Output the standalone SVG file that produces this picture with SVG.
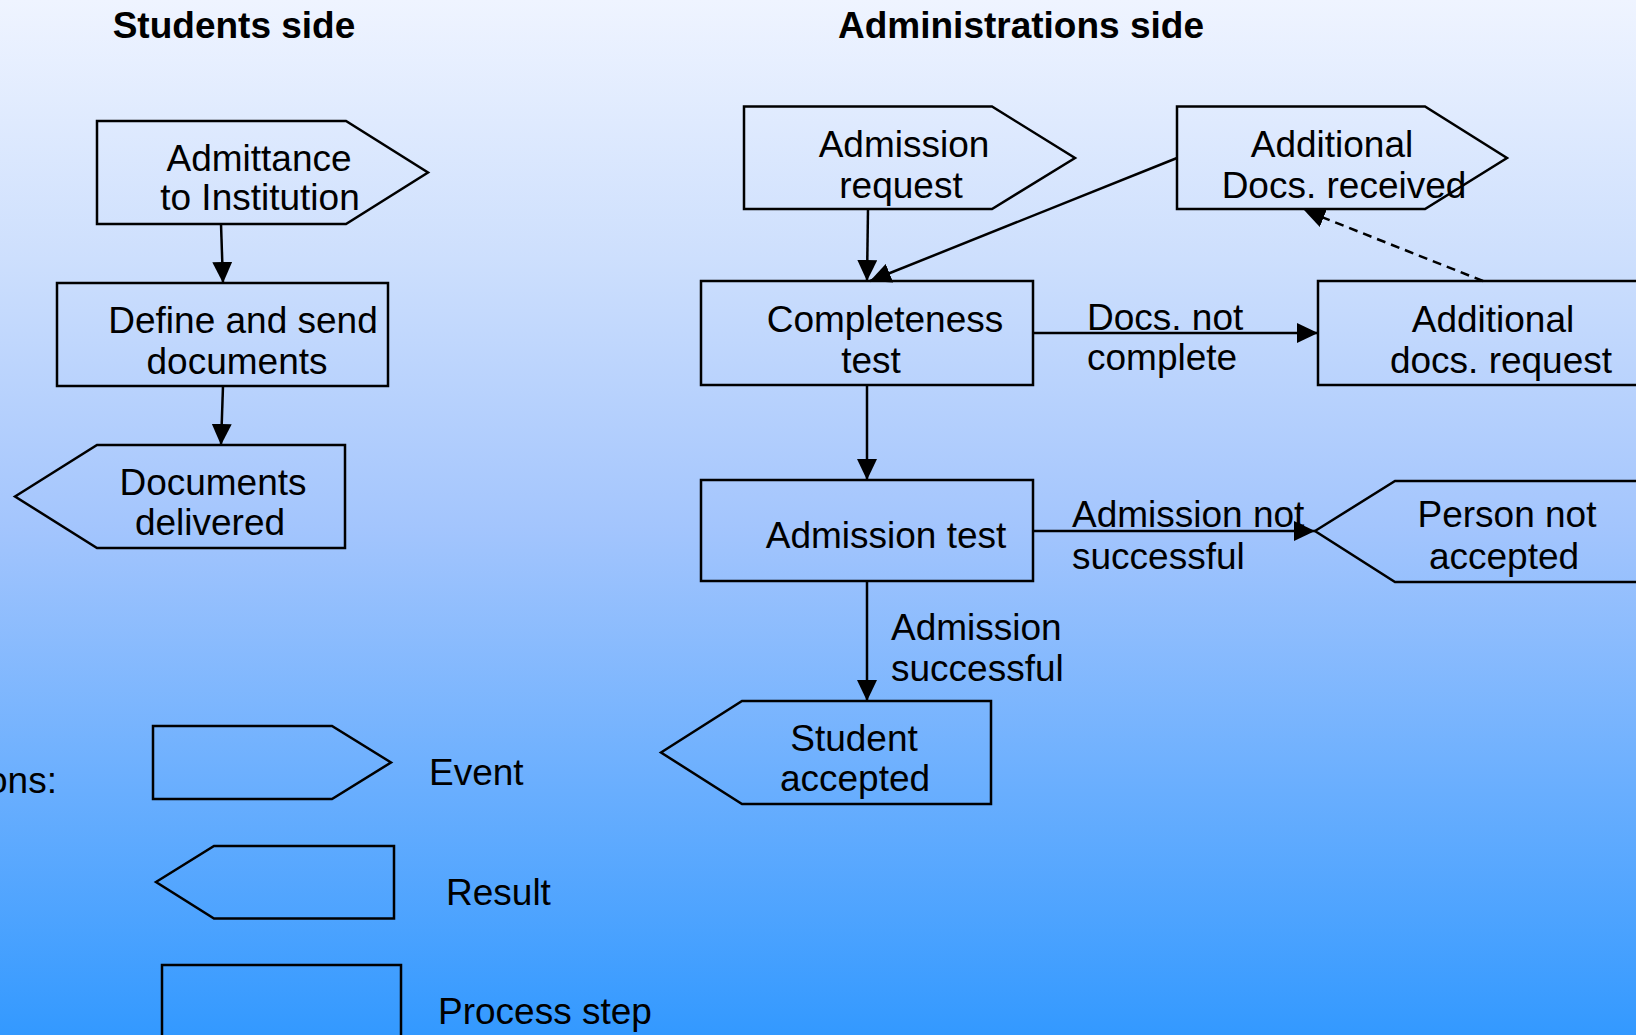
<svg xmlns="http://www.w3.org/2000/svg" width="1636" height="1035" viewBox="0 0 1636 1035">
<defs>
<linearGradient id="bg" x1="0" y1="0" x2="0" y2="1">
<stop offset="0" stop-color="#eff4ff"/>
<stop offset="0.25" stop-color="#cddffd"/>
<stop offset="0.51" stop-color="#a3c5fd"/>
<stop offset="1" stop-color="#3399ff"/>
</linearGradient>
<marker id="ah" markerUnits="userSpaceOnUse" markerWidth="22" markerHeight="20" refX="21" refY="10" orient="auto">
<path d="M0,0 L21,10 L0,20 z" fill="#000"/>
</marker>
<style>
.s{fill:none;stroke:#000;stroke-width:2.5;stroke-linejoin:miter}
.c{fill:none;stroke:#000;stroke-width:2.5;marker-end:url(#ah)}
.d{stroke-dasharray:9,6}
text{font-family:"Liberation Sans",Arial,sans-serif;font-size:37px;fill:#000}
.t{font-weight:bold;text-anchor:middle}
.m{text-anchor:middle}
</style>
</defs>
<rect x="0" y="0" width="1636" height="1035" fill="url(#bg)"/>
<g id="titles">
<text class="t" x="234" y="38">Students side</text>
<text class="t" x="1021" y="38">Administrations side</text>
</g>
<g id="connectors">
<line class="c" x1="221" y1="224" x2="223" y2="283"/>
<line class="c" x1="223" y1="386" x2="221" y2="445"/>
<line class="c" x1="868" y1="209" x2="867" y2="281"/>
<line class="c" x1="1177" y1="158" x2="870" y2="281"/>
<line class="c d" x1="1483" y1="281" x2="1304" y2="210"/>
<line class="c" x1="1033" y1="333" x2="1318" y2="333"/>
<line class="c" x1="867" y1="385" x2="867" y2="480"/>
<line class="c" x1="1033" y1="531" x2="1315" y2="531"/>
<line class="c" x1="867" y1="581" x2="867" y2="701"/>
</g>
<g id="n-admittance">
<polygon class="s" points="97,121 346,121 428,172.5 346,224 97,224"/>
<text class="m" x="259" y="171">Admittance</text>
<text class="m" x="260" y="210">to Institution</text>
</g>
<g id="n-define">
<rect class="s" x="57" y="283" width="331" height="103"/>
<text class="m" x="243" y="333">Define and send</text>
<text class="m" x="237" y="374">documents</text>
</g>
<g id="n-delivered">
<polygon class="s" points="15,496.5 97,445 345,445 345,548 97,548"/>
<text class="m" x="213" y="495">Documents</text>
<text class="m" x="210" y="535">delivered</text>
</g>
<g id="n-request">
<polygon class="s" points="744,106.5 992,106.5 1075,158 992,209 744,209"/>
<text class="m" x="904" y="157">Admission</text>
<text class="m" x="901" y="198">request</text>
</g>
<g id="n-received">
<polygon class="s" points="1177,106.5 1425,106.5 1507,158 1425,209 1177,209"/>
<text class="m" x="1332" y="157">Additional</text>
<text class="m" x="1344" y="198">Docs. received</text>
</g>
<g id="n-completeness">
<rect class="s" x="701" y="281" width="332" height="104"/>
<text class="m" x="885" y="332">Completeness</text>
<text class="m" x="871" y="373">test</text>
</g>
<g id="n-addrequest">
<rect class="s" x="1318" y="281" width="340" height="104"/>
<text class="m" x="1493" y="332">Additional</text>
<text class="m" x="1501" y="373">docs. request</text>
</g>
<g id="n-admtest">
<rect class="s" x="701" y="480" width="332" height="101"/>
<text class="m" x="886" y="548">Admission test</text>
</g>
<g id="n-notaccepted">
<polygon class="s" points="1315,531 1395,481 1660,481 1660,582 1395,582"/>
<text class="m" x="1507" y="527">Person not</text>
<text class="m" x="1504" y="569">accepted</text>
</g>
<g id="n-accepted">
<polygon class="s" points="661,752.5 742,701 991,701 991,804 742,804"/>
<text class="m" x="854" y="751">Student</text>
<text class="m" x="855" y="791">accepted</text>
</g>
<g id="labels">
<text x="1087" y="330">Docs. not</text>
<text x="1087" y="370">complete</text>
<text x="1072" y="527">Admission not</text>
<text x="1072" y="569">successful</text>
<text x="891" y="640">Admission</text>
<text x="891" y="681">successful</text>
</g>
<g id="legend">
<text x="-13" y="793">ons:</text>
<polygon class="s" points="153,726 332,726 391,762.5 332,799 153,799"/>
<text x="429" y="785">Event</text>
<polygon class="s" points="156,882 214,846 394,846 394,918.5 214,918.5"/>
<text x="446" y="905">Result</text>
<rect class="s" x="162" y="965" width="239" height="100"/>
<text x="438" y="1024">Process step</text>
</g>
</svg>
